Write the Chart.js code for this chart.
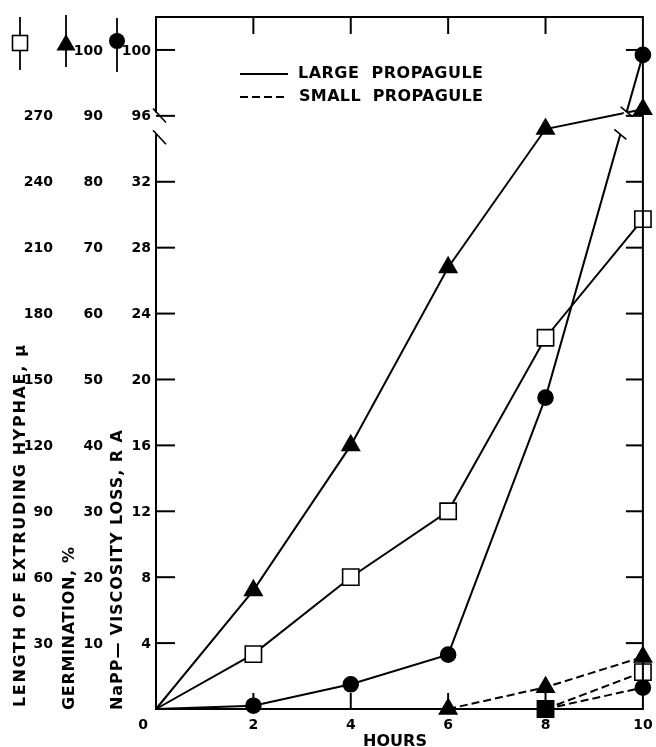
<!DOCTYPE html>
<html>
<head>
<meta charset="utf-8">
<script src="https://cdn.jsdelivr.net/npm/chart.js@4"></script>
<style>
  body { margin: 0; background: #fff; }
  #wrap { width: 656px; height: 747px; position: relative; }
</style>
</head>
<body>
<div id="wrap"><canvas id="propChart"></canvas></div>
<script>
// hours on the x axis
const hours = [0, 2, 4, 6, 8, 10];
const xTickLabels = ['0', '2', '4', '6', '8', '10'];

// large propagule (solid lines)
const largeHyphae = [0, 25, 60, 90, 169, 223];     // length of extruding hyphae, u
const largeGerm = [0, 18, 40, 67, 88, 91];         // germination, %
const largeVisc = [0, 0.2, 1.5, 3.3, 18.9, 99.7];  // NaPP viscosity loss, R A

// small propagule (dashed lines)
const smallGermHours = [6, 8, 10];
const smallGerm = [0, 3.3, 7.9];
const smallHyphaeHours = [8, 10];
const smallHyphae = [0, 16.8];
const smallViscHours = [8, 10];
const smallVisc = [0, 1.3];

// the three left tick columns, one entry per tick step (0..10)
const hyphaeTicks = ['', '30', '60', '90', '120', '150', '180', '210', '240', '270', ''];
const germTicks = ['', '10', '20', '30', '40', '50', '60', '70', '80', '90', '100'];
const viscTicks = ['', '4', '8', '12', '16', '20', '24', '28', '32', '96', '100'];

const FONT = 'bold 14px "DejaVu Sans"';
const TITLE_FONT = 'bold 16px "DejaVu Sans"';

// every series is plotted on a common "step" scale (one tick = one step)
function hyphaeStep(v) { return v / 30; }
function germStep(v) { return v / 10; }
function viscStep(v) { return v <= 32 ? v / 4 : 9 + (v - 96) / 4; }

function pts(xs, ys, f) {
    return xs.map((x, i) => ({ x: x, y: f(ys[i]) }));
}

function fitText(ctx, text, x, y, target) {
    ctx.letterSpacing = '0px';
    const w = ctx.measureText(text).width;
    const sp = Math.max(0, (target - w) / (text.length - 1));
    ctx.letterSpacing = sp + 'px';
    ctx.fillText(text, x, y);
    ctx.letterSpacing = '0px';
}

function drawSquare(ctx, x, y, s) {
    ctx.fillStyle = '#fff';
    ctx.fillRect(x - s / 2, y - s / 2, s, s);
    ctx.strokeRect(x - s / 2, y - s / 2, s, s);
}
function drawTriangle(ctx, x, y, r) {
    ctx.fillStyle = '#000';
    ctx.beginPath();
    ctx.moveTo(x, y - r);
    ctx.lineTo(x + r * 0.87, y + r * 0.5);
    ctx.lineTo(x - r * 0.87, y + r * 0.5);
    ctx.closePath();
    ctx.fill();
}
function drawCircle(ctx, x, y, r) {
    ctx.fillStyle = '#000';
    ctx.beginPath();
    ctx.arc(x, y, r, 0, Math.PI * 2);
    ctx.fill();
}

const frame = {
    id: 'frame',
    afterDatasetsDraw(chart) {
        // break in the viscosity curve between 8 and 10 hours
        const ctx = chart.ctx;
        const meta = chart.getDatasetMeta(2);
        const a = meta.data[4], b = meta.data[5];
        const ys = chart.scales.y;
        const yHi = ys.getPixelForValue(9.06), yLo = ys.getPixelForValue(8.72);
        const at = (py) => ({ x: a.x + (b.x - a.x) * (a.y - py) / (a.y - b.y), y: py });
        const p1 = at(yLo), p2 = at(yHi);
        ctx.save();
        ctx.strokeStyle = '#fff';
        ctx.lineWidth = 5;
        ctx.beginPath(); ctx.moveTo(p1.x, p1.y); ctx.lineTo(p2.x, p2.y); ctx.stroke();
        ctx.strokeStyle = '#000';
        ctx.lineWidth = 1.6;
        [p1, p2].forEach(p => {
            ctx.beginPath(); ctx.moveTo(p.x - 6, p.y - 5); ctx.lineTo(p.x + 6, p.y + 5); ctx.stroke();
        });
        ctx.restore();
    },
    afterDraw(chart) {
        const ctx = chart.ctx;
        const xs = chart.scales.x, ys = chart.scales.y;
        const L = xs.getPixelForValue(0), R = xs.getPixelForValue(10);
        const T = ys.getPixelForValue(10.5), B = ys.getPixelForValue(0);
        ctx.save();
        ctx.strokeStyle = '#000';
        ctx.lineWidth = 2;
        ctx.lineCap = 'butt';

        // frame with axis break on the left side
        const brTop = ys.getPixelForValue(9.05), brBot = ys.getPixelForValue(8.72);
        ctx.beginPath();
        ctx.moveTo(L, brTop); ctx.lineTo(L, T); ctx.lineTo(R, T); ctx.lineTo(R, B); ctx.lineTo(L, B); ctx.lineTo(L, brBot);
        ctx.stroke();
        ctx.lineWidth = 1.6;
        [brTop - 4, brBot - 4].forEach(y => {
            ctx.beginPath(); ctx.moveTo(L - 3, y); ctx.lineTo(L + 10, y + 14); ctx.stroke();
        });

        // inward ticks
        ctx.lineWidth = 2;
        for (let i = 1; i <= 10; i++) {
            const y = ys.getPixelForValue(i);
            ctx.beginPath(); ctx.moveTo(L, y); ctx.lineTo(L + 19, y); ctx.stroke();
            ctx.beginPath(); ctx.moveTo(R, y); ctx.lineTo(R - 17, y); ctx.stroke();
        }
        hours.forEach(h => {
            if (h === 0 || h === 10) return;
            const x = xs.getPixelForValue(h);
            ctx.beginPath(); ctx.moveTo(x, T); ctx.lineTo(x, T + 17); ctx.stroke();
            ctx.beginPath(); ctx.moveTo(x, B); ctx.lineTo(x, B - 16); ctx.stroke();
        });

        // left tick labels, three columns
        ctx.fillStyle = '#000';
        ctx.font = FONT;
        ctx.textAlign = 'right';
        ctx.textBaseline = 'middle';
        for (let i = 1; i <= 10; i++) {
            const y = ys.getPixelForValue(i) + 1;
            ctx.fillText(hyphaeTicks[i], 53, y);
            ctx.fillText(germTicks[i], 103, y);
            ctx.fillText(viscTicks[i], 151, y);
        }

        // column symbols at the top
        ctx.lineWidth = 1.8;
        [[20, 17, 70], [66, 15, 67], [117, 18, 72]].forEach(s => {
            ctx.beginPath(); ctx.moveTo(s[0], s[1]); ctx.lineTo(s[0], s[2]); ctx.stroke();
        });
        ctx.lineWidth = 1.6;
        drawSquare(ctx, 20, 43, 15);
        drawTriangle(ctx, 66, 45, 11);
        drawCircle(ctx, 117, 41, 8);

        // x tick labels
        ctx.textAlign = 'center';
        ctx.textBaseline = 'middle';
        hours.forEach((h, i) => {
            const x = xs.getPixelForValue(h) + (h === 0 ? -13 : 0);
            ctx.fillText(xTickLabels[i], x, B + 16);
        });
        ctx.font = TITLE_FONT;
        ctx.textAlign = 'left';
        fitText(ctx, 'HOURS', 363, B + 33, 64);

        // rotated axis titles
        const titles = [
            ['LENGTH OF EXTRUDING HYPHAE, \u03bc', 21, 707, 362],
            ['GERMINATION, %', 70, 710, 163],
            ['NaPP\u2014 VISCOSITY LOSS, R A', 118, 710, 280]
        ];
        titles.forEach(t => {
            ctx.save();
            ctx.translate(t[1], t[2]);
            ctx.rotate(-Math.PI / 2);
            fitText(ctx, t[0], 0, 0, t[3]);
            ctx.restore();
        });

        // legend
        ctx.lineWidth = 1.8;
        ctx.beginPath(); ctx.moveTo(240, 74); ctx.lineTo(288, 74); ctx.stroke();
        ctx.setLineDash([8, 4]);
        ctx.beginPath(); ctx.moveTo(240, 97); ctx.lineTo(288, 97); ctx.stroke();
        ctx.setLineDash([]);
        fitText(ctx, 'LARGE  PROPAGULE', 298, 74, 185);
        fitText(ctx, 'SMALL  PROPAGULE', 299, 97, 184);
        ctx.restore();
    }
};

function lineSet(data, style, radius, dashed, fill) {
    return {
        data: data,
        borderColor: '#000',
        borderWidth: 2,
        borderDash: dashed ? [8, 4] : [],
        pointStyle: style,
        pointRadius: radius,
        pointBackgroundColor: fill,
        pointBorderColor: '#000',
        pointBorderWidth: 1.6,
        tension: 0,
        clip: false
    };
}

function initChart() {
    const ctx = document.getElementById('propChart').getContext('2d');
    const noOrigin = (r) => hours.map((h, i) => i === 0 ? 0 : r);
    const sqSmallFill = smallHyphaeHours.map(h => h === 8 ? '#000' : '#fff');
    new Chart(ctx, {
        type: 'line',
        data: {
            datasets: [
                lineSet(pts(hours, largeGerm, germStep), 'triangle', noOrigin(10), false, '#000'),
                lineSet(pts(hours, largeHyphae, hyphaeStep), 'rect', noOrigin(11.5), false, '#fff'),
                lineSet(pts(hours, largeVisc, viscStep), 'circle', noOrigin(7.5), false, '#000'),
                lineSet(pts(smallGermHours, smallGerm, germStep), 'triangle', 10, true, '#000'),
                lineSet(pts(smallHyphaeHours, smallHyphae, hyphaeStep), 'rect', 11.5, true, sqSmallFill),
                lineSet(pts(smallViscHours, smallVisc, viscStep), 'circle', 7.5, true, '#000')
            ]
        },
        options: {
            responsive: true,
            maintainAspectRatio: false,
            animation: false,
            layout: { padding: { left: 156, right: 5, top: 17, bottom: 38 } },
            plugins: { legend: { display: false }, tooltip: { enabled: false } },
            scales: {
                x: { type: 'linear', min: 0, max: 10, display: false },
                y: { type: 'linear', min: 0, max: 10.5, display: false }
            }
        },
        plugins: [frame]
    });
}

window.onload = initChart;
</script>
</body>
</html>
